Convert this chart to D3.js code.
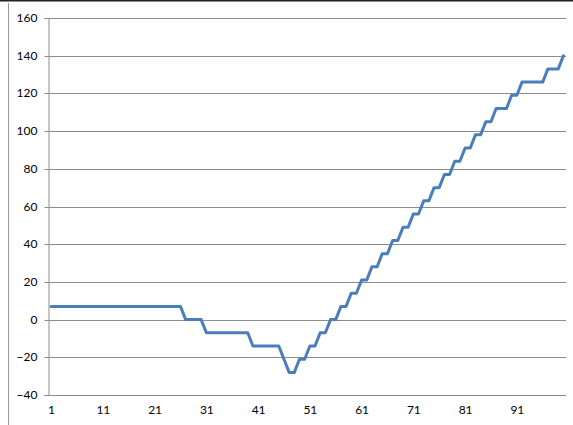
<!DOCTYPE html>
<html>
<head>
<meta charset="utf-8">
<script src="https://cdn.jsdelivr.net/npm/d3@7"></script>
<style>
  html, body { margin: 0; padding: 0; background: #fff; }
  svg { display: block; }
  text { font-family: Lato, "Open Sans", sans-serif; font-size: 12px; fill: #000; }
</style>
</head>
<body>
<svg id="chart" width="573" height="425"></svg>
<script>
const categories = d3.range(1, 101);
const values = [
  7,7,7,7,7,7,7,7,7,7, 7,7,7,7,7,7,7,7,7,7, 7,7,7,7,7,7,
  0,0,0,0,
  -7,-7,-7,-7,-7,-7,-7,-7,-7,
  -14,-14,-14,-14,-14,-14,
  -21,-28,-28,
  -21,-21,-14,-14,-7,-7,0,0,7,7,14,14,21,21,28,28,35,35,42,42,49,49,
  56,56,63,63,70,70,77,77,84,84,91,91,98,98,105,105,
  112,112,112,119,119,126,126,126,126,126,133,133,133,140
];
const yTicks = [-40, -20, 0, 20, 40, 60, 80, 100, 120, 140, 160];
const xTickLabels = [1, 11, 21, 31, 41, 51, 61, 71, 81, 91];

const svg = d3.select("#chart");
const plotLeft = 48.5, plotRight = 566, plotTop = 18, plotBottom = 395;

const x = d3.scalePoint().domain(categories).range([plotLeft, plotRight]).padding(0.5);
const y = d3.scaleLinear().domain([-40, 160]).range([plotBottom, plotTop]);

// outer frame (cropped)
svg.append("rect").attr("x", 0).attr("y", 0).attr("width", 573).attr("height", 1.5).attr("fill", "#222");
svg.append("line").attr("x1", 8.5).attr("x2", 8.5).attr("y1", 3).attr("y2", 425)
  .attr("stroke", "#9a9a9a").attr("stroke-width", 1);

// gridlines
svg.append("g").selectAll("line").data(yTicks).join("line")
  .attr("x1", plotLeft).attr("x2", plotRight)
  .attr("y1", d => Math.round(y(d)) + 0.5).attr("y2", d => Math.round(y(d)) + 0.5)
  .attr("stroke", "#8c8c8c").attr("stroke-width", 1);

// y axis
const yAxis = d3.axisLeft(y).tickValues(yTicks).tickSize(4).tickPadding(7);
const gy = svg.append("g").attr("transform", `translate(${plotLeft},0)`).call(yAxis);
gy.select(".domain").attr("stroke", "#8c8c8c");
gy.selectAll(".tick line").attr("stroke", "#8c8c8c");
gy.selectAll(".tick").attr("transform", d => `translate(0,${Math.round(y(d)) + 0.5})`);
gy.selectAll("text").attr("font-family", "Lato, 'Open Sans', sans-serif").attr("font-size", 12).attr("fill", "#000");

// x axis labels
const xAxis = d3.axisBottom(x).tickValues(xTickLabels).tickSize(0).tickPadding(10);
const gx = svg.append("g").attr("transform", `translate(0,${Math.round(plotBottom) + 0.5})`).call(xAxis);
gx.select(".domain").attr("stroke", "#8c8c8c").attr("d", `M${plotLeft},0H${plotRight}`);
gx.selectAll("text").attr("font-family", "Lato, 'Open Sans', sans-serif").attr("font-size", 12).attr("fill", "#000");

// line
const line = d3.line().x((d, i) => x(categories[i])).y(d => y(d));
svg.append("path").datum(values)
  .attr("d", line)
  .attr("fill", "none")
  .attr("stroke", "#4a7ebb")
  .attr("stroke-width", 3)
  .attr("stroke-linejoin", "round")
  .attr("stroke-linecap", "round");
</script>
</body>
</html>
